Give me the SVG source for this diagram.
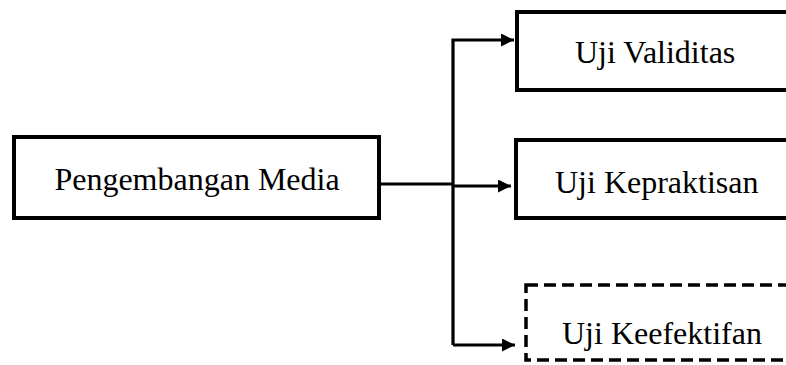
<svg xmlns="http://www.w3.org/2000/svg" width="786" height="365" viewBox="0 0 786 365">
<style>
.box{fill:#fff;stroke:#000;stroke-width:4}
.dash{fill:#fff;stroke:#000;stroke-width:3.5;stroke-dasharray:12 6}
.lbl{font-family:"Liberation Serif","Times New Roman",serif;font-size:32px;fill:#000}
.con{fill:none;stroke:#000;stroke-width:3.2}
</style>
<defs>
<marker id="arr" viewBox="0 0 10 10" refX="10" refY="5" markerWidth="13" markerHeight="13" markerUnits="userSpaceOnUse" orient="auto">
<path d="M0,0 L10,5 L0,10 Z" fill="#000"/>
</marker>
</defs>
<rect width="786" height="365" fill="#fff"/>
<g id="connectors">
<path class="con" d="M380,184 H452"/>
<path class="con" d="M452,186 H511" marker-end="url(#arr)"/>
<path class="con" d="M453,345 V40 H514" marker-end="url(#arr)"/>
<path class="con" d="M453,345 H515" marker-end="url(#arr)"/>
</g>
<g id="pengembangan">
<rect class="box" x="14" y="137" width="365" height="81"/>
<text class="lbl" x="197" y="190" text-anchor="middle">Pengembangan Media</text>
</g>
<g id="validitas">
<rect class="box" x="517" y="12" width="280" height="78"/>
<text class="lbl" x="575" y="63">Uji Validitas</text>
</g>
<g id="kepraktisan">
<rect class="box" x="516" y="140" width="280" height="78"/>
<text class="lbl" x="555" y="193">Uji Kepraktisan</text>
</g>
<g id="keefektifan">
<rect class="dash" x="526" y="285" width="280" height="75"/>
<text class="lbl" x="562" y="344">Uji Keefektifan</text>
</g>
</svg>
